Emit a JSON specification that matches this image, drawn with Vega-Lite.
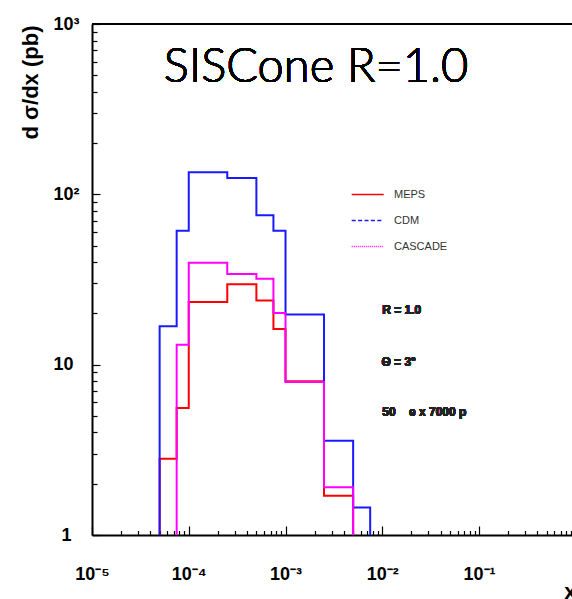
{
  "$schema": "https://vega.github.io/schema/vega-lite/v6.json",
  "width": 480,
  "height": 511,
  "autosize": "none",
  "padding": {"left": 92, "top": 24, "right": 0, "bottom": 64},
  "background": "white",
  "config": {"view": {"stroke": null}, "font": "Liberation Sans"},
  "data": {"values": [
    {"s": "MEPS", "o": 1, "x": 5e-5, "y": 1},
    {"s": "MEPS", "o": 2, "x": 5e-5, "y": 2.8},
    {"s": "MEPS", "o": 3, "x": 7.5e-5, "y": 5.57},
    {"s": "MEPS", "o": 4, "x": 1e-4, "y": 23.3},
    {"s": "MEPS", "o": 5, "x": 2.5e-4, "y": 29.7},
    {"s": "MEPS", "o": 6, "x": 5e-4, "y": 23.8},
    {"s": "MEPS", "o": 7, "x": 7.5e-4, "y": 16.2},
    {"s": "MEPS", "o": 8, "x": 1e-3, "y": 8.0},
    {"s": "MEPS", "o": 9, "x": 2.5e-3, "y": 1.70},
    {"s": "MEPS", "o": 10, "x": 5e-3, "y": 1},
    {"s": "CDM", "o": 1, "x": 5e-5, "y": 1},
    {"s": "CDM", "o": 2, "x": 5e-5, "y": 16.8},
    {"s": "CDM", "o": 3, "x": 7.5e-5, "y": 61.2},
    {"s": "CDM", "o": 4, "x": 1e-4, "y": 134.8},
    {"s": "CDM", "o": 5, "x": 2.5e-4, "y": 124.8},
    {"s": "CDM", "o": 6, "x": 5e-4, "y": 75.4},
    {"s": "CDM", "o": 7, "x": 7.5e-4, "y": 61.2},
    {"s": "CDM", "o": 8, "x": 1e-3, "y": 19.7},
    {"s": "CDM", "o": 9, "x": 2.5e-3, "y": 3.58},
    {"s": "CDM", "o": 10, "x": 5e-3, "y": 1.45},
    {"s": "CDM", "o": 11, "x": 7.5e-3, "y": 1},
    {"s": "CASCADE", "o": 1, "x": 7.5e-5, "y": 1},
    {"s": "CASCADE", "o": 2, "x": 7.5e-5, "y": 13.1},
    {"s": "CASCADE", "o": 3, "x": 1e-4, "y": 39.6},
    {"s": "CASCADE", "o": 4, "x": 2.5e-4, "y": 34.1},
    {"s": "CASCADE", "o": 5, "x": 5e-4, "y": 31.9},
    {"s": "CASCADE", "o": 6, "x": 7.5e-4, "y": 20.1},
    {"s": "CASCADE", "o": 7, "x": 1e-3, "y": 7.9},
    {"s": "CASCADE", "o": 8, "x": 2.5e-3, "y": 1.91},
    {"s": "CASCADE", "o": 9, "x": 5e-3, "y": 1}
  ]},
  "layer": [
    {
      "mark": {"type": "line", "interpolate": "step-after", "strokeWidth": 2, "clip": true},
      "encoding": {
        "x": {
          "field": "x", "type": "quantitative",
          "scale": {"type": "log", "domain": [1e-5, 0.914], "nice": false},
          "axis": {
            "values": [1e-5, 2e-5, 3e-5, 4e-5, 5e-5, 6e-5, 7e-5, 8e-5, 9e-5, 1e-4, 2e-4, 3e-4, 4e-4, 5e-4, 6e-4, 7e-4, 8e-4, 9e-4, 1e-3, 2e-3, 3e-3, 4e-3, 5e-3, 6e-3, 7e-3, 8e-3, 9e-3, 1e-2, 2e-2, 3e-2, 4e-2, 5e-2, 6e-2, 7e-2, 8e-2, 9e-2, 0.1, 0.2, 0.3, 0.4, 0.5, 0.6, 0.7, 0.8, 0.9],
            "labelExpr": "abs(log(datum.value)/LN10 - round(log(datum.value)/LN10)) < 0.001 ? ['10⁻⁵','10⁻⁴','10⁻³','10⁻²','10⁻¹','1'][round(log(datum.value)/LN10)+5] : ''",
            "labelFont": "Liberation Sans", "labelFontWeight": "bold", "labelFontSize": 18, "labelColor": "black",
            "labelBaseline": "alphabetic", "labelPadding": 53, "labelFlush": false, "labelOverlap": false, "labelBound": false,
            "tickSize": {"condition": {"test": "abs(log(datum.value)/LN10 - round(log(datum.value)/LN10)) < 0.001", "value": -9}, "value": -4.5},
            "tickColor": "black", "tickWidth": 1.2,
            "domainColor": "black", "domainWidth": 2, "grid": false,
            "title": "x", "titleFont": "Liberation Sans", "titleFontSize": 22, "titleFontWeight": "bold", "titleColor": "black",
            "titleAnchor": "end", "titleAlign": "right", "titleX": 484, "titleY": 63, "titleBaseline": "alphabetic"
          }
        },
        "y": {
          "field": "y", "type": "quantitative",
          "scale": {"type": "log", "domain": [1, 1000], "nice": false},
          "axis": {
            "values": [1, 2, 3, 4, 5, 6, 7, 8, 9, 10, 20, 30, 40, 50, 60, 70, 80, 90, 100, 200, 300, 400, 500, 600, 700, 800, 900, 1000],
            "labelExpr": "abs(log(datum.value)/LN10 - round(log(datum.value)/LN10)) < 0.001 ? ['1','10','10²','10³'][round(log(datum.value)/LN10)] : ''",
            "labelFont": "Liberation Sans", "labelFontWeight": "bold", "labelFontSize": 18, "labelColor": "black",
            "labelBaseline": "middle", "labelFlush": false, "labelOverlap": false, "labelBound": false,
            "labelAlign": {"condition": {"test": "datum.value == 1", "value": "right"}, "value": "left"},
            "labelPadding": {"condition": {"test": "datum.value == 1", "value": 29}, "value": 47},
            "tickSize": {"condition": {"test": "abs(log(datum.value)/LN10 - round(log(datum.value)/LN10)) < 0.001", "value": -8}, "value": -5},
            "tickColor": "black", "tickWidth": 1.2,
            "domainColor": "black", "domainWidth": 2, "grid": false,
            "title": "d σ/dx (pb)", "titleFont": "Liberation Sans", "titleFontSize": 22, "titleFontWeight": "bold", "titleColor": "black",
            "titleAngle": 270, "titleAlign": "right", "titleAnchor": "end", "titleX": -54.5, "titleY": 1, "titleBaseline": "alphabetic"
          }
        },
        "color": {"field": "s", "type": "nominal", "scale": {"domain": ["MEPS", "CDM", "CASCADE"], "range": ["#ff0000", "#1a1aff", "#ff00ff"]}, "legend": {"orient": "none", "legendX": 258.7, "legendY": 153.5, "title": null, "symbolType": "stroke", "symbolSize": 1024, "symbolStrokeWidth": 1.5, "labelFont": "Liberation Sans", "labelFontSize": 11, "labelColor": "#333333", "labelOffset": 9.3, "rowPadding": 4, "padding": 0, "symbolOffset": 0}},
        "order": {"field": "o", "type": "quantitative"}
      }
    },
    {
      "transform": [{"filter": "false"}],
      "mark": {"type": "line", "strokeWidth": 1.5},
      "encoding": {
        "x": {"field": "x", "type": "quantitative"},
        "y": {"field": "y", "type": "quantitative"},
        "color": {"field": "s", "type": "nominal", "legend": {"orient": "none", "legendX": 258.7, "legendY": 153.5, "title": null, "symbolType": "stroke", "symbolSize": 1024, "symbolStrokeWidth": 1.5, "labelFont": "Liberation Sans", "labelFontSize": 11, "labelColor": "#333333", "labelOffset": 9.3, "rowPadding": 4, "padding": 0, "symbolOffset": 0}},
        "strokeDash": {"field": "s", "type": "nominal", "scale": {"domain": ["MEPS", "CDM", "CASCADE"], "range": [[1, 0], [4, 2.4], [1, 1]]}, "legend": {"orient": "none", "legendX": 258.7, "legendY": 153.5, "title": null, "symbolType": "stroke", "symbolSize": 1024, "symbolStrokeWidth": 1.5, "labelFont": "Liberation Sans", "labelFontSize": 11, "labelColor": "#333333", "labelOffset": 9.3, "rowPadding": 4, "padding": 0, "symbolOffset": 0}}
      }
    },
    {
      "mark": {"type": "rule", "color": "black", "strokeWidth": 2},
      "encoding": {"y": {"datum": 1000}}
    },
    {
      "mark": {"type": "text", "align": "center", "baseline": "alphabetic", "font": "Lato", "fontSize": 47, "fontWeight": 300, "color": "black"},
      "encoding": {"x": {"datum": 0.002066}, "y": {"datum": 456.6}, "text": {"value": "SISCone R=1.0"}}
    },
    {
      "mark": {"type": "text", "align": "left", "baseline": "middle", "font": "Liberation Sans", "fontWeight": "bold", "fontSize": 12, "color": "#222222"},
      "encoding": {"x": {"datum": 0.01}, "y": {"datum": 20.9}, "text": {"value": "R =  1.0"}}
    },
    {
      "mark": {"type": "text", "align": "left", "baseline": "middle", "font": "Liberation Sans", "fontWeight": "bold", "fontSize": 12, "color": "#222222"},
      "encoding": {"x": {"datum": 0.0098}, "y": {"datum": 10.4}, "text": {"value": "Θ = 3°"}}
    },
    {
      "mark": {"type": "text", "align": "left", "baseline": "middle", "font": "Liberation Sans", "fontWeight": "bold", "fontSize": 12, "color": "#222222"},
      "encoding": {"x": {"datum": 0.01}, "y": {"datum": 5.27}, "text": {"value": "50\u00a0\u00a0\u00a0 e x 7000 p"}}
    }
  ]
}
